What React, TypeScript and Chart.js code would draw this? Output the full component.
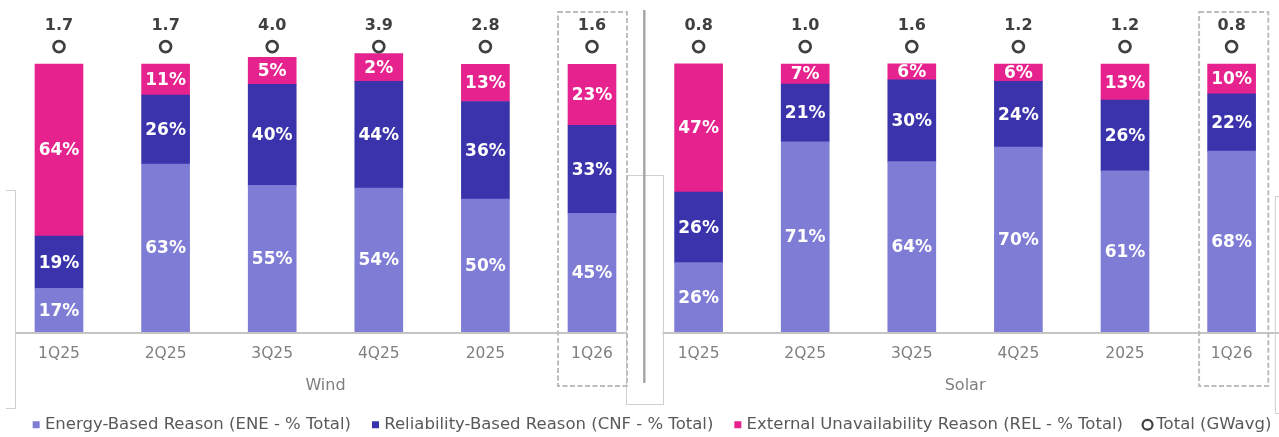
import React, { useEffect, useRef } from 'react';
import { Chart, registerables } from 'chart.js';

Chart.register(...registerables);

// ---------- data ----------
const categories = ['1Q25', '2Q25', '3Q25', '4Q25', '2025', '1Q26', '1Q25', '2Q25', '3Q25', '4Q25', '2025', '1Q26'];
const groupLabels = ['Wind', 'Solar'];
const groupSize = 6;

// segment heights as drawn (share of bar scale)
const eneValues = [16.3, 62.7, 54.7, 53.7, 49.6, 44.3, 25.9, 71.0, 63.6, 69.0, 60.1, 67.5];
const cnfValues = [19.5, 25.7, 37.7, 39.8, 36.4, 32.8, 26.3, 21.5, 30.5, 24.5, 26.4, 21.4];
const relValues = [64.2, 11.6, 10.1, 10.4, 13.9, 22.8, 47.9, 7.5, 6.0, 6.5, 13.5, 11.1];

// printed percentage labels
const eneLabels = [17, 63, 55, 54, 50, 45, 26, 71, 64, 70, 61, 68];
const cnfLabels = [19, 26, 40, 44, 36, 33, 26, 21, 30, 24, 26, 22];
const relLabels = [64, 11, 5, 2, 13, 23, 47, 7, 6, 6, 13, 10];

// totals (GWavg) and the level where their markers sit
const totalGW = [1.7, 1.7, 4.0, 3.9, 2.8, 1.6, 0.8, 1.0, 1.6, 1.2, 1.2, 0.8];
const totalMarkerLevel = [106.5, 106.5, 106.5, 106.5, 106.5, 106.5, 106.5, 106.5, 106.5, 106.5, 106.5, 106.5];

const seriesNames = [
  'Energy-Based Reason (ENE - % Total)',
  'Reliability-Based Reason (CNF - % Total)',
  'External Unavailability Reason (REL - % Total)',
  'Total (GWavg)',
];

// ---------- style ----------
const FONT = "'DejaVu Sans', Verdana, sans-serif";
const C_ENE = '#7F7CD6';
const C_CNF = '#3A33AB';
const C_REL = '#E6228F';
const OFF = 50; // canvas shifted left by this amount
const W = 1407;
const H = 443;
const PLOT_LEFT = 5.7 + OFF;
const PLOT_RIGHT = 1284.9 + OFF;
const PLOT_BOTTOM = 332;
const Y_MAX = 123.88;

const decorPlugin = {
  id: 'decor',
  afterDatasetsDraw(chart: any) {
    const ctx = chart.ctx;
    ctx.save();
    ctx.textAlign = 'center';
    ctx.textBaseline = 'middle';
    ctx.font = `bold 17px ${FONT}`;
    ctx.fillStyle = '#ffffff';
    [eneLabels, cnfLabels, relLabels].forEach((arr, di) => {
      const meta = chart.getDatasetMeta(di);
      meta.data.forEach((el: any, i: number) => {
        const p = el.getProps(['x', 'y', 'base'], true);
        ctx.fillText(`${arr[i]}%`, p.x, (p.y + p.base) / 2 + 1);
      });
    });
    const tm = chart.getDatasetMeta(3);
    ctx.font = `bold 16px ${FONT}`;
    ctx.fillStyle = '#404040';
    tm.data.forEach((el: any, i: number) => {
      ctx.fillText(totalGW[i].toFixed(1), el.x, el.y - 21);
    });
    ctx.restore();
  },
  afterDraw(chart: any) {
    const ctx = chart.ctx;
    const xs = chart.scales.x;
    const a = chart.chartArea;
    const sepX = xs.getPixelForValue(groupSize - 0.5) - 1;
    const leftBr = a.left + 9.3;
    const rightBr = a.right - 10;
    const rectL = sepX - 18.5;
    const rectR = sepX + 18;
    ctx.save();
    const line = (x1: number, y1: number, x2: number, y2: number) => {
      ctx.beginPath();
      ctx.moveTo(x1, y1);
      ctx.lineTo(x2, y2);
      ctx.stroke();
    };
    // axis line
    ctx.strokeStyle = '#c4c4c4';
    ctx.lineWidth = 2;
    const ay = a.bottom + 1;
    line(leftBr, ay, rectL, ay);
    line(rectR, ay, chart.width, ay);

    // brackets and middle rectangle
    ctx.strokeStyle = '#cfcfcf';
    ctx.lineWidth = 1;
    line(leftBr + 0.5, 190.5, leftBr + 0.5, 408.5);
    line(leftBr - 9, 190.5, leftBr + 0.5, 190.5);
    line(leftBr - 9, 408.5, leftBr + 0.5, 408.5);
    line(rightBr + 0.5, 196.5, rightBr + 0.5, 413.5);
    line(rightBr + 0.5, 196.5, rightBr + 10, 196.5);
    line(rightBr + 0.5, 413.5, rightBr + 10, 413.5);
    ctx.strokeRect(Math.round(rectL) + 0.5, 175.5, Math.round(rectR - rectL), 229);

    // group separator
    ctx.strokeStyle = '#a8a8a8';
    ctx.lineWidth = 2.5;
    line(sepX, 10, sepX, 383);

    // dashed highlight boxes around the last category of each group
    ctx.strokeStyle = '#bdbdbd';
    ctx.lineWidth = 2;
    ctx.setLineDash([5, 2.5]);
    const boxes = [
      { c: xs.getPixelForValue(groupSize - 1), l: 34, r: 35 },
      { c: xs.getPixelForValue(groupSize * 2 - 1), l: 32.5, r: 36.7 },
    ];
    boxes.forEach((b) => {
      ctx.strokeRect(b.c - b.l, 12, b.l + b.r, 374);
    });
    ctx.setLineDash([]);

    // group labels
    ctx.fillStyle = '#7f7f7f';
    ctx.font = `16px ${FONT}`;
    ctx.textAlign = 'center';
    ctx.textBaseline = 'middle';
    groupLabels.forEach((g, gi) => {
      const x0 = xs.getPixelForValue(gi * groupSize);
      const x1 = xs.getPixelForValue(gi * groupSize + groupSize - 1);
      ctx.fillText(g, (x0 + x1) / 2, 386);
    });
    ctx.restore();
  },
};

export default function App() {
  const ref = useRef<HTMLCanvasElement | null>(null);

  useEffect(() => {
    if (!ref.current) return;
    const barCommon = { type: 'bar' as const, barThickness: 48, stack: 'pct', borderWidth: 0, order: 2 };
    const chart = new Chart(ref.current, {
      type: 'bar',
      data: {
        labels: categories,
        datasets: [
          { ...barCommon, label: seriesNames[0], data: eneValues, backgroundColor: C_ENE },
          { ...barCommon, label: seriesNames[1], data: cnfValues, backgroundColor: C_CNF },
          { ...barCommon, label: seriesNames[2], data: relValues, backgroundColor: C_REL },
          {
            type: 'line' as const,
            label: seriesNames[3],
            data: totalMarkerLevel,
            showLine: false,
            stack: 'total',
            order: 1,
            pointRadius: 5.5,
            pointHoverRadius: 5.5,
            pointBorderWidth: 2.7,
            pointBorderColor: '#404040',
            pointBackgroundColor: '#ffffff',
            borderColor: '#404040',
            backgroundColor: '#ffffff',
          } as any,
        ],
      },
      options: {
        responsive: false,
        animation: false,
        events: [],
        layout: { padding: 0, autoPadding: false },
        plugins: {
          tooltip: { enabled: false },
          legend: {
            position: 'bottom',
            labels: {
              usePointStyle: true,
              boxWidth: 1,
              boxHeight: 7,
              padding: 24,
              color: '#595959',
              font: { family: FONT, size: 16.5 },
              generateLabels: (c: any) => {
                const items = (Chart.defaults.plugins.legend.labels as any).generateLabels(c);
                items.sort((p: any, q: any) => p.datasetIndex - q.datasetIndex);
                return items.map((it: any) =>
                  it.datasetIndex < 3
                    ? { ...it, pointStyle: 'rect', lineWidth: 0, strokeStyle: it.fillStyle }
                    : { ...it, pointStyle: 'circle', lineWidth: 2.2, fillStyle: '#ffffff', strokeStyle: '#404040' }
                );
              },
            },
          },
        },
        scales: {
          x: {
            type: 'category',
            stacked: true,
            offset: true,
            grid: { display: false, drawTicks: false },
            border: { display: false },
            ticks: {
              color: '#7f7f7f',
              font: { family: FONT, size: 15.5 },
              padding: 13,
              maxRotation: 0,
              autoSkip: false,
            },
            afterFit: (s: any) => {
              const lg = s.chart.legend;
              s.height = s.chart.height - PLOT_BOTTOM - (lg ? lg.height : 0);
            },
          },
          y: {
            stacked: true,
            min: 0,
            max: Y_MAX,
            display: true,
            ticks: { display: false },
            grid: { display: false },
            border: { display: false },
            afterFit: (s: any) => {
              s.width = PLOT_LEFT;
            },
          },
          y2: {
            position: 'right',
            min: 0,
            max: 1,
            display: true,
            ticks: { display: false },
            grid: { display: false },
            border: { display: false },
            afterFit: (s: any) => {
              s.width = W - PLOT_RIGHT;
            },
          },
        },
      } as any,
      plugins: [decorPlugin],
    });
    return () => chart.destroy();
  }, []);

  return (
    <div style={{ position: 'absolute', left: 0, top: 0, width: 1279, height: 437, overflow: 'hidden', background: '#ffffff' }}>
      <canvas
        ref={ref}
        width={W}
        height={H}
        style={{ position: 'absolute', left: -OFF, top: 0, width: W, height: H, display: 'block' }}
      />
    </div>
  );
}
